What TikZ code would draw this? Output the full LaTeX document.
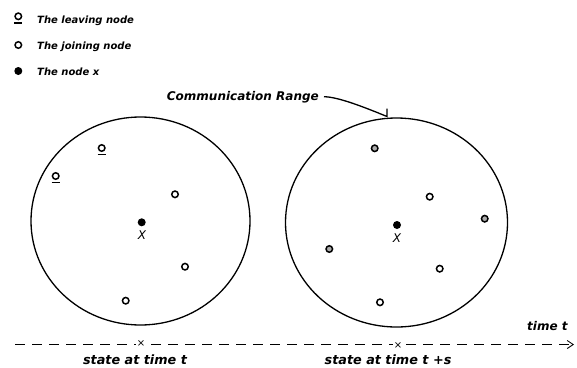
\documentclass[tikz,border=0pt]{standalone}
\usepackage{fontspec}
\setmainfont{DejaVu Sans}
\usetikzlibrary{arrows.meta,shapes.geometric}
\begin{document}
\begin{tikzpicture}[x=1pt,y=-1pt,
  rangecircle/.style={draw, ellipse, line width=1.3pt, inner sep=0pt},
  joining/.style={circle, draw, line width=1.5pt, minimum size=6.5pt, inner sep=0pt},
  joininggray/.style={joining, fill=gray!65},
  nodex/.style={circle, fill=black, minimum size=8pt, inner sep=0pt},
  uline/.style={line width=1.4pt},
  legendtext/.style={anchor=base west, inner sep=0pt, font=\bfseries\itshape\fontsize{10}{12}\selectfont},
  labeltext/.style={inner sep=0pt, font=\bfseries\itshape\fontsize{12}{14}\selectfont},
  statetext/.style={inner sep=0pt, font=\bfseries\itshape\fontsize{12.8}{14}\selectfont},
  xlabel/.style={inner sep=0pt, font=\itshape\fontsize{12}{14}\selectfont},
  crossmark/.style={inner sep=1pt, fill=white, font=\fontsize{10}{10}\selectfont}
]
\useasboundingbox (0,0) rectangle (577,367);

% legend
\node[joining] (lgl) at (18.3,16.3) {};
\draw[uline] ([xshift=-4pt,yshift=-2.5pt]lgl.south) -- ([xshift=4pt,yshift=-2.5pt]lgl.south);
\node[legendtext] (lglt) at (37,23.3) {The leaving node};
\node[joining] (lgj) at (18.3,45) {};
\node[legendtext] (lgjt) at (37,49.5) {The joining node};
\node[nodex] (lgx) at (18.3,71) {};
\node[legendtext] (lgxt) at (37,75.7) {The node x};

% ranges
\node[rangecircle, minimum width=219pt, minimum height=208pt] (rangeA) at (140.5,221) {};
\node[rangecircle, minimum width=222pt, minimum height=209pt] (rangeB) at (396.5,222.5) {};

% communication range label
\node[labeltext, anchor=base west] (cr) at (166.7,100) {Communication Range};
\coordinate (crtip) at (387,116.5);
\draw[line width=1.3pt] ([xshift=5pt]cr.east) .. controls +(14,0) and +(-22,-9) .. (crtip) -- ++(0,-8);

% left state
\node[nodex] (xa) at (141.7,222.3) {};
\node[xlabel] (xal) at (142,235) {X};
\node[joining] (la1) at (101.7,148) {};
\draw[uline] ([xshift=-4pt,yshift=-2.5pt]la1.south) -- ([xshift=4pt,yshift=-2.5pt]la1.south);
\node[joining] (la2) at (55.7,176) {};
\draw[uline] ([xshift=-4pt,yshift=-2.5pt]la2.south) -- ([xshift=4pt,yshift=-2.5pt]la2.south);
\node[joining] (ja1) at (175,194.3) {};
\node[joining] (ja2) at (185,266.7) {};
\node[joining] (ja3) at (125.7,300.7) {};

% right state
\node[nodex] (xb) at (397,225) {};
\node[xlabel] (xbl) at (397,238) {X};
\node[joininggray] (gb1) at (374.7,148.3) {};
\node[joininggray] (gb2) at (484.7,218.7) {};
\node[joininggray] (gb3) at (329.3,249) {};
\node[joining] (jb1) at (429.7,196.7) {};
\node[joining] (jb2) at (439.7,268.7) {};
\node[joining] (jb3) at (380,302.3) {};

% time axis
\coordinate (axstart) at (15,344.5);
\coordinate (axend) at (574,344.5);
\draw[line width=0.9pt, dash pattern=on 10pt off 7pt, -{Straight Barb[length=6pt,width=8pt,line width=0.9pt]}] (axstart) -- (axend);
\node[crossmark] (ta) at (141,343.3) {×};
\node[crossmark] (tb) at (398,345.5) {×};
\node[statetext, anchor=base] (tal) at (135,364.5) {state at time t};
\node[statetext, anchor=base] (tbl) at (388,364.8) {state at time t +s};
\node[labeltext, anchor=base west] (tt) at (527,330) {time t};
\end{tikzpicture}
\end{document}
